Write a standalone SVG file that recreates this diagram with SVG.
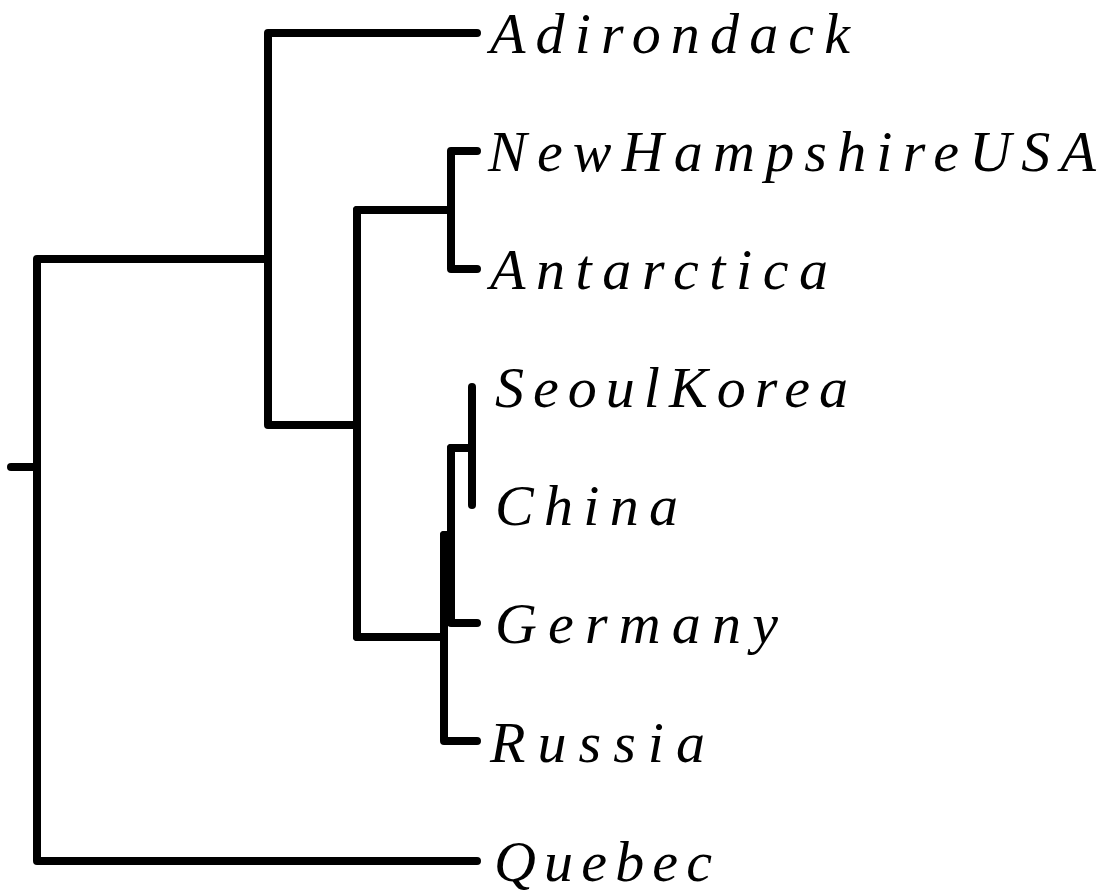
<svg xmlns="http://www.w3.org/2000/svg" width="1106" height="893" viewBox="0 0 1106 893">
<style>
.e{fill:none;stroke:#000;stroke-width:8;stroke-linecap:round;stroke-linejoin:round}
.t{font-family:"Liberation Serif","Times New Roman",serif;font-style:italic;font-size:58px;fill:#000}
</style>
<rect width="1106" height="893" fill="#fff"/>
<g id="connectors">
<path class="e" d="M11,467H37"/>
<path class="e" d="M477,33H268V425H357"/>
<path class="e" d="M268,259H37V861H477"/>
<path class="e" d="M357,210V637"/>
<path class="e" d="M477,151H451V269H477"/>
<path class="e" d="M357,210H451"/>
<path class="e" d="M357,637H444"/>
<path class="e" d="M444,535V741H477"/>
<path class="e" d="M444,535H451"/>
<path class="e" d="M451,448V623H477"/>
<path class="e" d="M451,448H472"/>
<path class="e" d="M472,387V505"/>
</g>
<g id="n-adirondack"><text class="t" x="490" y="53" textLength="360" lengthAdjust="spacing">Adirondack</text></g>
<g id="n-newhampshireusa"><text class="t" x="488" y="171" textLength="608" lengthAdjust="spacing">NewHampshireUSA</text></g>
<g id="n-antarctica"><text class="t" x="490" y="289" textLength="338" lengthAdjust="spacing">Antarctica</text></g>
<g id="n-seoulkorea"><text class="t" x="495" y="407" textLength="353" lengthAdjust="spacing">SeoulKorea</text></g>
<g id="n-china"><text class="t" x="495" y="525" textLength="183" lengthAdjust="spacing">China</text></g>
<g id="n-germany"><text class="t" x="495" y="643" textLength="283" lengthAdjust="spacing">Germany</text></g>
<g id="n-russia"><text class="t" x="490" y="762" textLength="215" lengthAdjust="spacing">Russia</text></g>
<g id="n-quebec"><text class="t" x="494" y="881" textLength="218" lengthAdjust="spacing">Quebec</text></g>
</svg>
